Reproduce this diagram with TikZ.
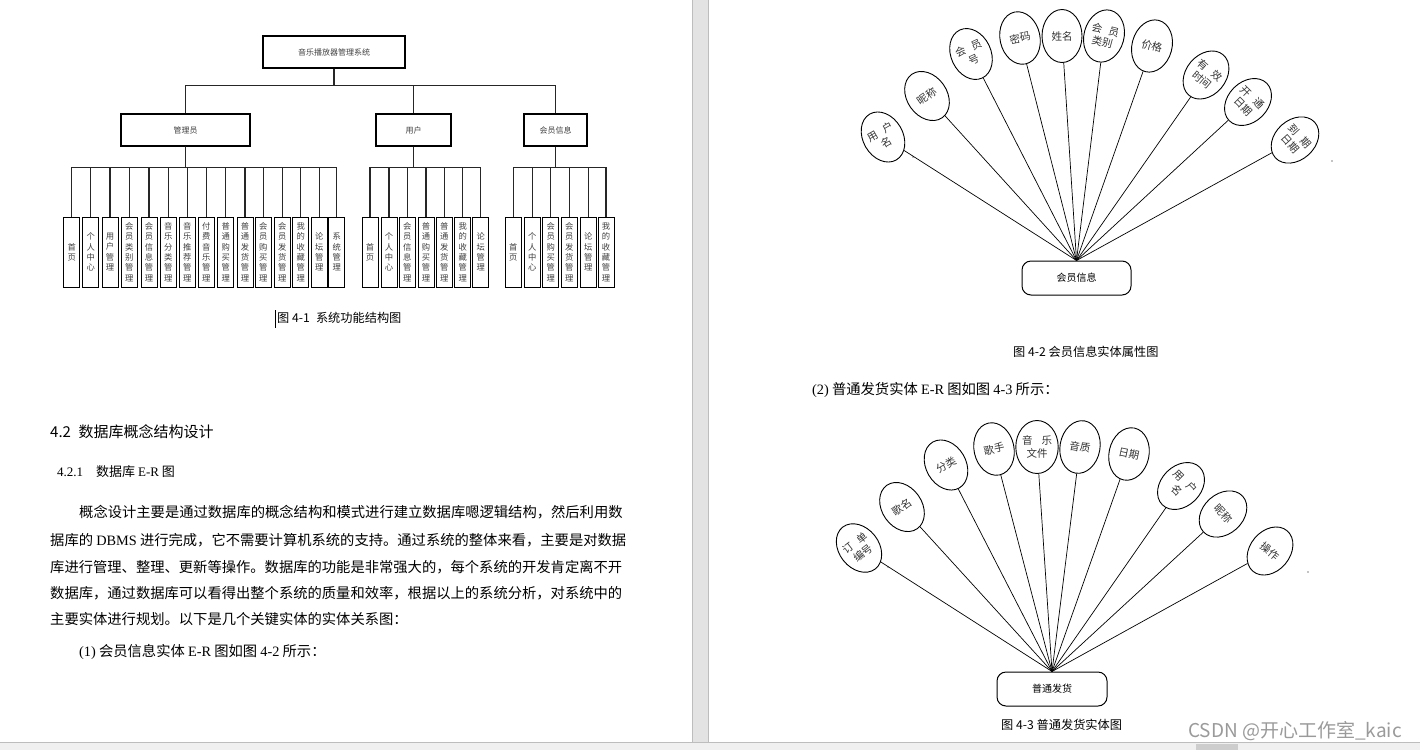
\documentclass[tikz,border=0pt]{standalone}
\usepackage{fontspec}
\setmainfont{Noto Sans CJK SC}
\newfontfamily\tms{Liberation Serif}
\usetikzlibrary{shapes.geometric}
\definecolor{gapc}{HTML}{E3E3E3}
\definecolor{gapb}{HTML}{BDBDBD}
\definecolor{barc}{HTML}{F0F0F0}
\definecolor{thumbc}{HTML}{CDCDCD}
\definecolor{wmc}{HTML}{9A9A9A}
\begin{document}
\begin{tikzpicture}[x=1pt,y=-1pt,
  box/.style={draw=black, line width=1.1pt, inner sep=0pt, font=\fontsize{8}{10}\selectfont, text=black!75},
  leaf/.style={draw=black, line width=0.95pt, inner sep=0pt, minimum width=16pt, minimum height=70pt, align=center, font=\fontsize{8.3}{10.3}\selectfont, text=black!75},
  tline/.style={line width=1.2pt, draw=black!85},
  attr/.style={ellipse, draw=black, line width=0.9pt, minimum width=40pt, minimum height=53pt, inner sep=0pt, align=center, font=\fontsize{10.5}{12.5}\selectfont, text=black!80},
  erl/.style={line width=0.7pt, draw=black},
  ent/.style={draw=black, rounded corners=9pt, line width=1pt, inner sep=0pt, font=\fontsize{10}{12}\selectfont},
  txt/.style={anchor=west, inner sep=0pt, font=\fontsize{14.3}{17}\selectfont},
  captxt/.style={anchor=west, inner sep=0pt, font=\fontsize{12.2}{15}\selectfont}
]
\useasboundingbox (0,0) rectangle (1420,750);
\fill[white] (0,0) rectangle (1420,750);
% page gap
\fill[gapc] (692,0) rectangle (708,742);
\draw[gapb, line width=0.8pt] (692.4,0) -- (692.4,742) (708.4,0) -- (708.4,742);
% bottom bar
\fill[barc] (0,742) rectangle (1420,750);
\draw[gapb, line width=0.8pt] (0,742.4) -- (1420,742.4);
\fill[thumbc] (1196,743.5) rectangle (1238,750);

% ---------- tree ----------
\node[box, minimum width=142pt, minimum height=32pt] (root) at (334,52) {音乐播放器管理系统};
\node[box, minimum width=129pt, minimum height=32pt] (admin) at (185.5,130) {管理员};
\node[box, minimum width=75pt, minimum height=32pt] (user) at (413.5,130) {用户};
\node[box, minimum width=63pt, minimum height=32pt] (vip) at (555.5,130) {会员信息};
\draw[tline] (root.south) -- ++(0,17) -| (admin.north);
\draw[tline] (root.south) -- ++(0,17) -| (user.north);
\draw[tline] (root.south) -- ++(0,17) -| (vip.north);

\foreach \x/\t [count=\i] in {71.7/首\\页, 90.7/个\\人\\中\\心, 110/用\\户\\管\\理, 129.3/会\\员\\类\\别\\管\\理, 149/会\\员\\信\\息\\管\\理, 168.3/音\\乐\\分\\类\\管\\理, 187.3/音\\乐\\推\\荐\\管\\理, 206.3/付\\费\\音\\乐\\管\\理, 225.7/普\\通\\购\\买\\管\\理, 245/普\\通\\发\\货\\管\\理, 263.3/会\\员\\购\\买\\管\\理, 282.3/会\\员\\发\\货\\管\\理, 300.7/我\\的\\收\\藏\\管\\理, 319.3/论\\坛\\管\\理, 336.7/系\\统\\管\\理}{
  \node[leaf] (A\i) at (\x,252) {\t};
  \draw[tline] (admin.south) -- ++(0,21) -| (A\i.north);
}
\foreach \x/\t [count=\i] in {370/首\\页, 389/个\\人\\中\\心, 407.3/会\\员\\信\\息\\管\\理, 426/普\\通\\购\\买\\管\\理, 444.3/普\\通\\发\\货\\管\\理, 462.7/我\\的\\收\\藏\\管\\理, 480.7/论\\坛\\管\\理}{
  \node[leaf] (U\i) at (\x,252) {\t};
  \draw[tline] (user.south) -- ++(0,21) -| (U\i.north);
}
\foreach \x/\t [count=\i] in {513.3/首\\页, 532.3/个\\人\\中\\心, 550.7/会\\员\\购\\买\\管\\理, 569.3/会\\员\\发\\货\\管\\理, 588.3/论\\坛\\管\\理, 606/我\\的\\收\\藏\\管\\理}{
  \node[leaf] (V\i) at (\x,252) {\t};
  \draw[tline] (vip.south) -- ++(0,21) -| (V\i.north);
}
\node[captxt] (cap1) at (277,318) {图 4-1\enspace 系统功能结构图};
\draw[line width=0.8pt] (275,310) -- (275,328);

% ---------- left text ----------
\node[anchor=west, inner sep=0pt, font=\fontsize{15}{18}\selectfont] (h42) at (50,432) {4.2\enspace 数据库概念结构设计};
\node[anchor=west, inner sep=0pt, font=\fontsize{13}{16}\selectfont] (h421) at (57,472) {{\tms 4.2.1}\quad 数据库 {\tms E-R} 图};
\node[txt] (p1) at (79,512) {概念设计主要是通过数据库的概念结构和模式进行建立数据库嗯逻辑结构，然后利用数};
\node[txt] (p2) at (50,540) {据库的 {\tms DBMS} 进行完成，它不需要计算机系统的支持。通过系统的整体来看，主要是对数据};
\node[txt] (p3) at (50,567) {库进行管理、整理、更新等操作。数据库的功能是非常强大的，每个系统的开发肯定离不开};
\node[txt] (p4) at (50,593) {数据库，通过数据库可以看得出整个系统的质量和效率，根据以上的系统分析，对系统中的};
\node[txt] (p5) at (50,619) {主要实体进行规划。以下是几个关键实体的实体关系图：};
\node[txt] (p6) at (79,652) {{\tms (1)} 会员信息实体 {\tms E-R} 图如图 {\tms 4-2} 所示：};

% ---------- ER 1 ----------
\node[ent, minimum width=109pt, minimum height=34pt] (ent1) at (1076.5,278) {会员信息};
\foreach \x/\y/\r/\t [count=\i] in {883/137/30/{用\hspace{7pt}户\\名}, 927/96/35/{昵称}, 971/54/25/{会\hspace{7pt}员\\号}, 1020/38/12/{密码}, 1062/36/0/{姓名}, 1104/36/-15/{会\hspace{7pt}员\\类别}, 1152/46/-15/{价格}, 1206/75/-40/{有\hspace{7pt}效\\时间}, 1248/102/-45/{开\hspace{7pt}通\\日期}, 1295/140/-48/{到\hspace{7pt}期\\日期}}{
  \node[attr, rotate=\r] (E\i) at (\x,\y) {\t};
  \draw[erl] (E\i) -- (ent1.north);
}
\fill (913,157) circle (0.6);
\fill (1332,161) circle (0.6);
\node[captxt] (cap2) at (1013,352) {图 4-2 会员信息实体属性图};
\node[txt] (p7) at (812,390) {{\tms (2)} 普通发货实体 {\tms E-R} 图如图 {\tms 4-3} 所示：};

% ---------- ER 2 ----------
\node[ent, minimum width=110pt, minimum height=34pt] (ent2) at (1052,689) {普通发货};
\foreach \x/\y/\r/\t [count=\i] in {859/548/38/{订\hspace{7pt}单\\编号}, 902/507/35/{歌名}, 946/465/30/{分类}, 994/449/12/{歌手}, 1037/447/0/{音\hspace{9pt}乐\\文件}, 1080/447/-10/{音质}, 1129/454/-12/{日期}, 1181/486/-45/{用\hspace{7pt}户\\名}, 1223/514/-48/{昵称}, 1270/551/-40/{操作}}{
  \node[attr, rotate=\r] (F\i) at (\x,\y) {\t};
  \draw[erl] (F\i) -- (ent2.north);
}
\fill (888,567) circle (0.6);
\fill (1308,572) circle (0.6);
\node[captxt] (cap3) at (1001,725) {图 4-3 普通发货实体图};

% watermark
\node[anchor=west, inner sep=0pt, text=wmc, font=\fontsize{19}{22}\selectfont] (wm) at (1188,731) {CSDN @开心工作室\_kaic};
\end{tikzpicture}
\end{document}
